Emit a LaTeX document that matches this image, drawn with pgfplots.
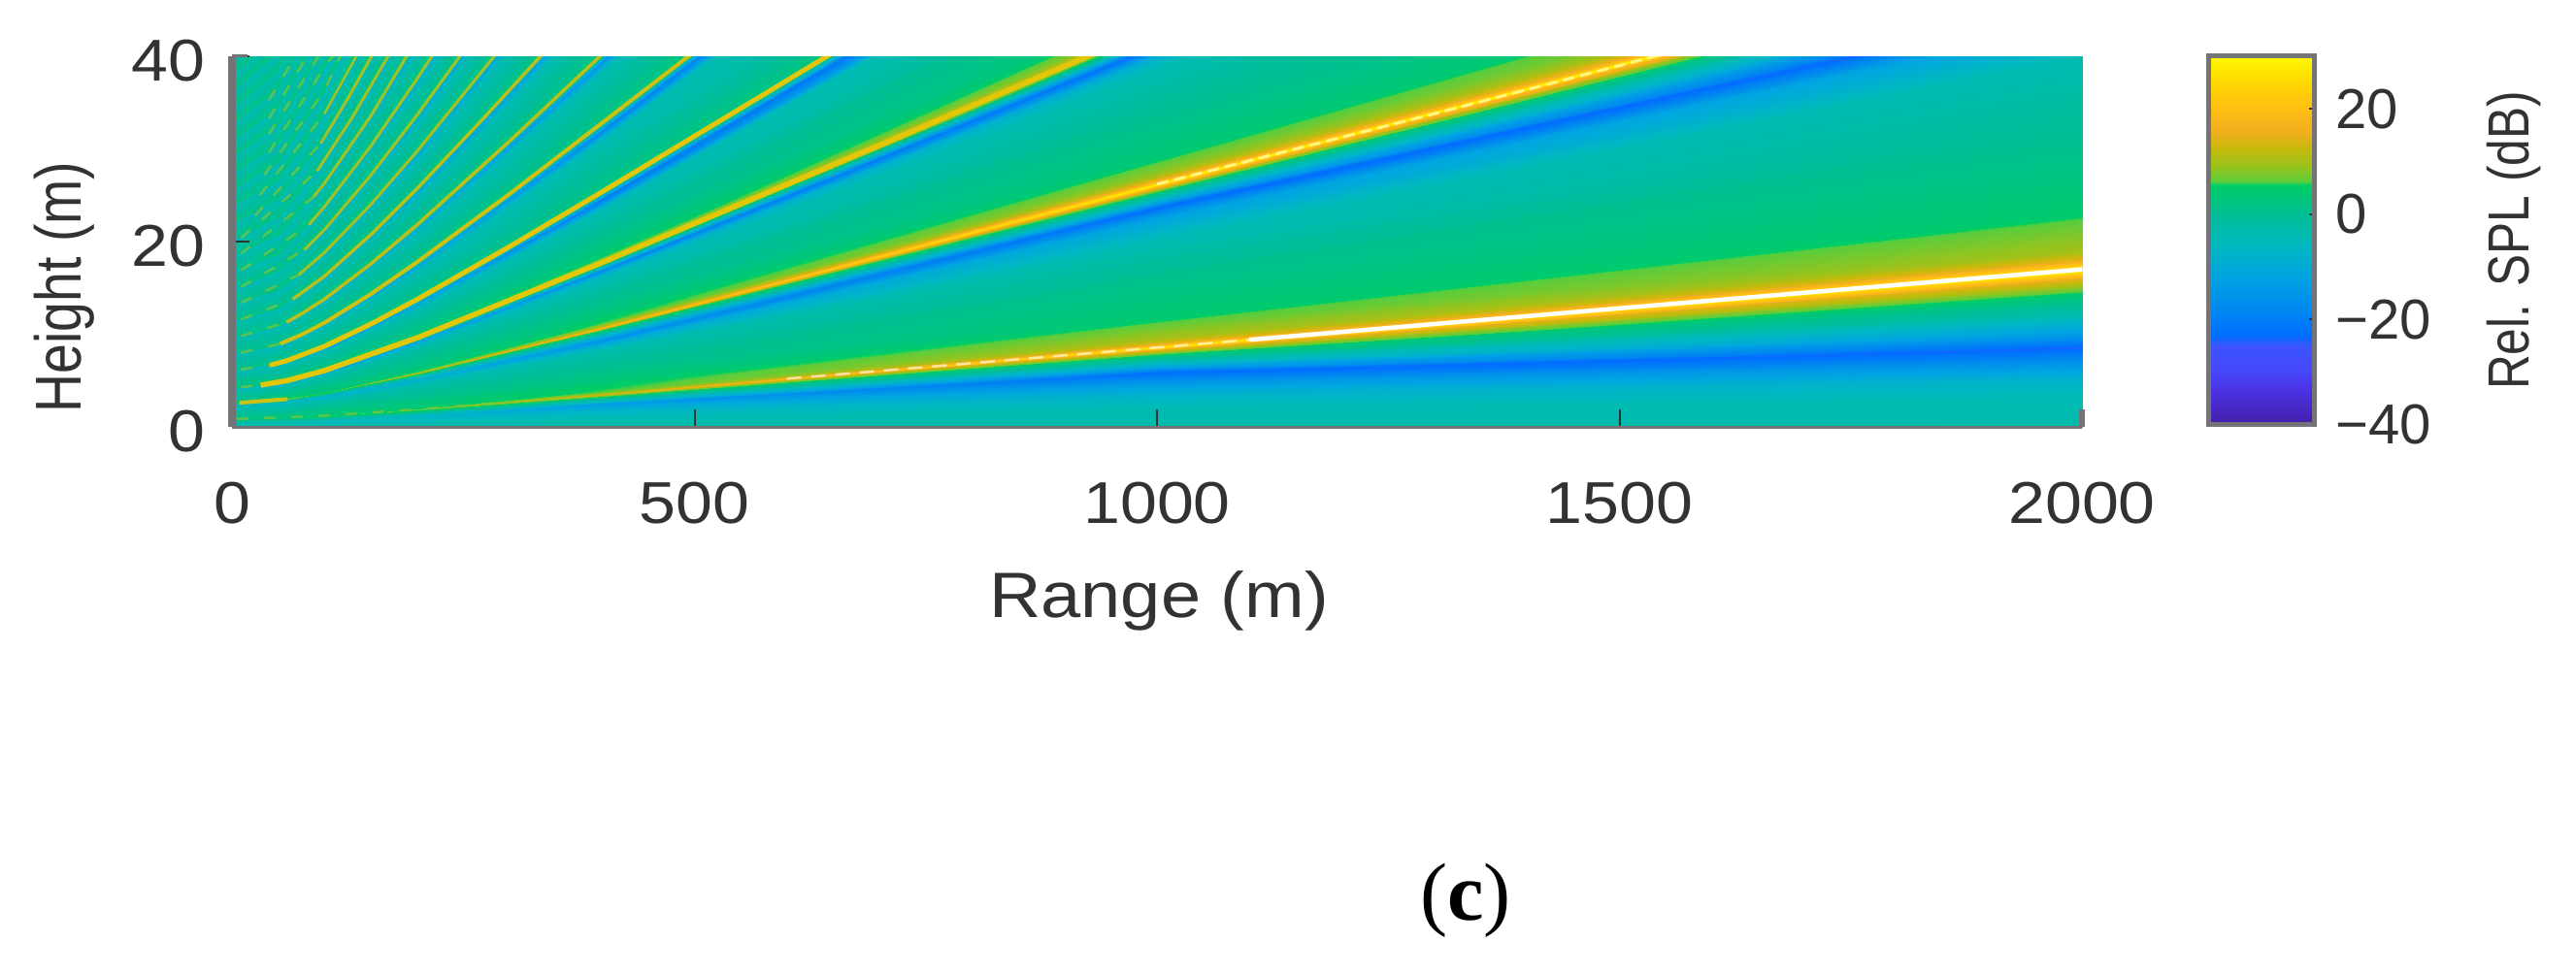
\documentclass[border=0pt]{standalone}
\usepackage{fontspec}
\usepackage{pgfplots}
\pgfplotsset{compat=1.18}
\setmainfont{Liberation Sans}
\newfontfamily\hfont[FakeStretch=1.12]{Liberation Sans}
\newfontfamily\vfont[FakeStretch=0.83]{Liberation Sans}
\newfontfamily\cfont{Liberation Serif}
\definecolor{txt}{RGB}{50,50,50}
\definecolor{spine}{RGB}{115,115,120}
\definecolor{lobeA}{RGB}{225,198,10}
\definecolor{lobeB}{RGB}{205,193,20}
\definecolor{lobeC}{RGB}{185,192,28}
\definecolor{lobeD}{RGB}{160,194,40}
\definecolor{lobeE}{RGB}{120,198,60}
% colormap positions are (dB+40)*10
\pgfplotsset{colormap={spl}{
  rgb255(0)=(70,30,170) rgb255(65)=(75,50,225) rgb255(100)=(70,70,250)
  rgb255(150)=(60,85,255) rgb255(170)=(0,110,255) rgb255(217)=(0,135,240)
  rgb255(284)=(0,165,225) rgb255(344)=(0,185,190) rgb255(400)=(0,190,150)
  rgb255(456)=(0,205,100) rgb255(462)=(90,205,60) rgb255(490)=(150,195,30)
  rgb255(526)=(200,185,10) rgb255(556)=(240,175,30) rgb255(600)=(255,190,20)
  rgb255(650)=(255,215,0) rgb255(700)=(255,250,0)}}
\begin{document}
\begin{tikzpicture}
\path[use as bounding box] (0,0) rectangle (26.54,10.04);
\begin{axis}[
  at={(2.39cm,5.64cm)}, anchor=south west,
  scale only axis, width=19.06cm, height=3.82cm,
  view={0}{90},
  xmin=0, xmax=2000, ymin=0, ymax=40, zmin=-50, zmax=50,
  colormap name=spl, point meta min=-40, point meta max=30,
  axis line style={draw=none},
  xtick={0,500,1000,1500,2000}, ytick={0,20,40}, ztick=\empty,
  xticklabels={0,500,1000,1500,2000}, yticklabels={0,20,40},
  tickpos=left, tick align=inside, major tick length=0.18cm,
  tick style={color=txt, line width=0.02cm},
  xticklabel style={font=\hfont\fontsize{17.3}{19}\selectfont, text=txt, yshift=-0.45cm},
  yticklabel style={font=\hfont\fontsize{17.3}{19}\selectfont, text=txt, xshift=-0.15cm, yshift=-0.05cm},
  colorbar, colorbar/width=1.09cm,
  colorbar style={
    at={(parent axis.north east)}, anchor=north west, xshift=1.0cm,
    height=3.8cm,
    ytick={-40,-20,0,20}, yticklabels={−40,−20,0,20},
    ytick pos=right, tick align=inside, major tick length=0.05cm,
    axis line style={draw=spine, line width=0.05cm},
    yticklabel style={font=\fontsize{16.5}{18}\selectfont, text=txt, anchor=west, xshift=0.1cm},
  },
]
% lobes 0 (bottom of the field), each line is one iso-line at r = 0,50,100,200,400,1000,2000
\addplot3[surf, shader=interp, mesh/cols=7] coordinates {
(0,0,-3)(50,0,-3)(100,0,-3)(200,0,-3)(400,0,-3)(1000,0,-3)(2000,0,-3)
(0,.1,-3)(50,.14,-3)(100,.21,-3)(200,.39,-3)(400,.88,-3.5)(1000,2.07,-4)(2000,3,-4)
(0,.18,-3)(50,.24,-3)(100,.36,-4)(200,.66,-5)(400,1.5,-6)(1000,3.54,-8)(2000,5.2,-8)
(0,.24,-3)(50,.32,-4)(100,.48,-5)(200,.88,-6)(400,2,-9)(1000,4.72,-14)(2000,7,-16)
(0,.3,-3)(50,.4,-4)(100,.6,-5)(200,1.1,-7)(400,2.5,-14)(1000,5.9,-23)(2000,8.6,-24)
(0,.39,-3)(50,.49,-3)(100,.7,-4)(200,1.23,-5)(400,2.67,-8)(1000,6.34,-13)(2000,10,-14)
(0,.52,-3)(50,.62,-3)(100,.84,-3)(200,1.42,-3)(400,2.9,-3)(1000,6.97,-4)(2000,12,-4)
(0,.65,0)(50,.75,1)(100,.99,1)(200,1.61,2)(400,3.14,2)(1000,7.6,3)(2000,14,3)
(0,.72,0)(50,.82,1)(100,1.06,2)(200,1.71,3)(400,3.26,5)(1000,7.91,8)(2000,15,8)
(0,.78,1)(50,.88,2)(100,1.13,3)(200,1.8,5)(400,3.38,8)(1000,8.23,14)(2000,16,15)
(0,.83,1)(50,.93,3)(100,1.18,4)(200,1.87,7)(400,3.46,12)(1000,8.44,23)(2000,16.7,25)
(0,.85,2)(50,.95,4)(100,1.2,5)(200,1.9,8)(400,3.5,14)(1000,8.54,28)(2000,17,30)
(0,.87,1)(50,.97,3)(100,1.22,4)(200,1.93,7)(400,3.56,12)(1000,8.69,23)(2000,17.3,25)
(0,.9,1)(50,1.01,2)(100,1.27,3)(200,2.01,5)(400,3.71,8)(1000,9.05,14)(2000,18,15)
(0,.95,1)(50,1.06,2)(100,1.34,3)(200,2.13,4)(400,3.92,6)(1000,9.56,10)(2000,19,10)
(0,1.12,1)(50,1.25,2)(100,1.58,3)(200,2.51,3)(400,4.62,5)(1000,11.3,6)(2000,22.5,6)
(0,1.15,1)(50,1.28,2)(100,1.62,3)(200,2.57,3)(400,4.73,4)(1000,11.5,4.5)(2000,23,4.5)
(0,1.6,-1)(50,1.79,-1)(100,2.26,0)(200,3.58,0)(400,6.6,0)(1000,16.1,1)(2000,32,0)
(0,2,-3)(50,2.24,-3)(100,2.83,-3)(200,4.47,-3)(400,8.25,-3)(1000,20.1,-4)(2000,40,-4)
};
% lobes 1 and 2
\addplot3[surf, shader=interp, mesh/cols=7] coordinates {
(0,2,-3)(50,2.24,-3)(100,2.83,-3)(200,4.47,-3)(400,8.25,-3)(1000,20.1,-4)(2000,40,-4)
(0,2.14,-3)(50,2.39,-4)(100,3.03,-5)(200,4.79,-6)(400,8.82,-8)(1000,22.5,-12)(2000,43.6,-12)
(0,2.27,-4)(50,2.54,-7)(100,3.21,-8)(200,5.08,-10)(400,9.36,-16)(1000,23.7,-23)(2000,45.4,-24)
(0,2.36,-3)(50,2.64,-4)(100,3.34,-5)(200,5.28,-6)(400,9.73,-9)(1000,24.2,-12)(2000,47.2,-12)
(0,2.44,-2)(50,2.73,-3)(100,3.45,-3)(200,5.46,-3)(400,10.06,-3)(1000,24.7,-4)(2000,48.8,-4)
(0,2.5,0)(50,2.8,2)(100,3.54,2)(200,5.59,2)(400,10.31,3)(1000,25.2,3)(2000,50,3)
(0,2.54,1)(50,2.84,4)(100,3.59,4)(200,5.68,4)(400,10.47,6)(1000,25.6,9)(2000,50.9,9)
(0,2.575,2)(50,2.88,7)(100,3.64,6)(200,5.76,8)(400,10.62,13)(1000,25.9,18)(2000,51.6,18)
(0,2.6,4)(50,2.91,11)(100,3.68,9)(200,5.81,13)(400,10.72,20)(1000,26.2,29)(2000,52,30)
(0,2.625,2)(50,2.93,7)(100,3.71,6)(200,5.87,8)(400,10.82,13)(1000,26.5,18)(2000,52.6,18)
(0,2.66,1)(50,2.97,5)(100,3.76,4)(200,5.95,6)(400,10.97,9)(1000,26.8,13)(2000,53.3,13)
(0,2.71,1)(50,3.03,4)(100,3.83,3)(200,6.06,4)(400,11.17,6)(1000,27.3,9)(2000,54.3,9)
(0,2.85,1)(50,3.19,3)(100,4.03,3)(200,6.37,3)(400,11.75,5)(1000,28.6,6)(2000,57.1,6)
(0,2.88,1)(50,3.22,3)(100,4.07,3)(200,6.44,3)(400,11.87,4)(1000,28.9,4)(2000,57.7,4)
(0,3.4,-1)(50,3.8,0)(100,4.81,0)(200,7.6,0)(400,14,0)(1000,34.2,0)(2000,68,0)
(0,3.85,-3)(50,4.3,-3)(100,5.44,-3)(200,8.61,-3)(400,15.87,-4)(1000,38.7,-4)(2000,77,-4)
(0,3.98,-4)(50,4.45,-5)(100,5.63,-6)(200,8.9,-7)(400,16.41,-8)(1000,40,-9)(2000,79.7,-9)
(0,4.1,-5)(50,4.58,-8)(100,5.8,-10)(200,9.17,-12)(400,16.9,-18)(1000,41.2,-23)(2000,82.1,-23)
(0,4.17,-3)(50,4.66,-4)(100,5.9,-4)(200,9.32,-5)(400,17.19,-6)(1000,41.9,-8)(2000,83.5,-8)
(0,4.23,0)(50,4.73,2)(100,5.98,2)(200,9.46,2)(400,17.44,3)(1000,42.5,3)(2000,84.7,3)
(0,4.27,1)(50,4.77,3)(100,6.04,4)(200,9.55,6)(400,17.6,12)(1000,42.9,8)(2000,85.5,8)
(0,4.3,3)(50,4.81,8)(100,6.08,11)(200,9.61,14)(400,17.73,22)(1000,43.2,25)(2000,86.1,25)
(0,4.33,2)(50,4.84,5)(100,6.12,6)(200,9.68,8)(400,17.85,14)(1000,43.5,14)(2000,86.7,14)
(0,4.38,1)(50,4.9,3)(100,6.19,4)(200,9.79,5)(400,18.06,8)(1000,44,9)(2000,87.7,9)
(0,4.48,1)(50,5.01,3)(100,6.33,3)(200,10.02,4)(400,18.47,5)(1000,45,6)(2000,89.7,6)
(0,4.52,1)(50,5.05,3)(100,6.39,3)(200,10.11,3)(400,18.64,4)(1000,45.4,4)(2000,90.5,4)
(0,5.1,0)(50,5.7,0)(100,7.21,0)(200,11.4,0)(400,21.03,0)(1000,51.3,0)(2000,102,0)
(0,5.7,-3)(50,6.37,-3)(100,8.06,-3)(200,12.75,-4)(400,23.5,-4)(1000,57.3,-4)(2000,114,-4)
};
% lobes 3 to 10, r = 0,50,100,200,400,1000
\addplot3[surf, shader=interp, mesh/cols=6] coordinates {
(0,5.7,-3)(50,6.37,-3)(100,8.06,-3)(200,12.75,-4)(400,23.5,-4)(1000,57.3,-4)
(0,5.95,-4)(50,6.65,-6)(100,8.41,-9)(200,13.3,-12)(400,24.53,-20)(1000,59.8,-23)
(0,6.15,1)(50,6.88,2)(100,8.7,3)(200,13.75,3)(400,25.36,3)(1000,61.8,3)
(0,7.5,-3)(50,8.39,-3)(100,10.6,-3)(200,16.77,-4)(400,30.9,-4)(1000,75.4,-4)
(0,7.75,-4)(50,8.66,-6)(100,10.96,-8)(200,17.33,-11)(400,31.95,-18)(1000,77.9,-20)
(0,7.95,1)(50,8.89,2)(100,11.24,3)(200,17.78,3)(400,32.8,3)(1000,79.9,3)
(0,9.3,-3)(50,10.4,-3)(100,13.15,-3)(200,20.8,-4)(400,38.3,-4)(1000,93.5,-4)
(0,9.55,-4)(50,10.68,-6)(100,13.5,-8)(200,21.35,-10)(400,39.4,-15)(1000,96,-16)
(0,9.75,1)(50,10.9,2)(100,13.79,3)(200,21.8,3)(400,40.2,3)(1000,98,3)
(0,11.05,-3)(50,12.35,-3)(100,15.62,-3)(200,24.7,-4)(400,45.6,-4)(1000,111,-4)
(0,11.3,-4)(50,12.63,-5)(100,15.98,-7)(200,25.27,-10)(400,46.6,-13)(1000,113.6,-13)
(0,11.5,1)(50,12.86,2)(100,16.26,3)(200,25.71,3)(400,47.4,3)(1000,115.6,3)
(0,12.85,-3)(50,14.37,-3)(100,18.17,-3)(200,28.73,-4)(400,53,-4)(1000,129,-4)
(0,13.1,-4)(50,14.65,-5)(100,18.52,-7)(200,29.29,-10)(400,54,-13)(1000,131.7,-13)
(0,13.3,1)(50,14.87,2)(100,18.81,3)(200,29.74,3)(400,54.8,3)(1000,133.7,3)
(0,14.6,-3)(50,16.32,-3)(100,20.64,-3)(200,32.65,-4)(400,60.2,-4)(1000,146.7,-4)
(0,14.85,-4)(50,16.6,-5)(100,21,-7)(200,33.2,-10)(400,61.2,-13)(1000,149,-13)
(0,15.05,1)(50,16.83,2)(100,21.28,3)(200,33.65,3)(400,62,3)(1000,151,3)
(0,16.35,-3)(50,18.28,-3)(100,23.12,-3)(200,36.56,-4)(400,67.4,-4)(1000,164,-4)
(0,16.6,-4)(50,18.56,-5)(100,23.47,-7)(200,37.1,-10)(400,68.4,-13)(1000,167,-13)
(0,16.8,1)(50,18.78,2)(100,23.76,3)(200,37.56,3)(400,69.3,3)(1000,169,3)
(0,18.15,-3)(50,20.29,-3)(100,25.66,-3)(200,40.6,-4)(400,74.8,-4)(1000,182,-4)
(0,18.4,-4)(50,20.57,-5)(100,26.02,-7)(200,41.1,-10)(400,75.9,-13)(1000,185,-13)
(0,18.6,1)(50,20.8,2)(100,26.3,3)(200,41.6,3)(400,76.7,3)(1000,187,3)
};
% lobes 11 to 22, r = 0,50,100,200
\addplot3[surf, shader=interp, mesh/cols=4] coordinates {
(0,18.6,1)(50,20.8,2)(100,26.3,3)(200,41.6,3)
(0,19.9,-3)(50,22.25,-3)(100,28.14,-4)(200,44.5,-4)
(0,20.15,-4)(50,22.53,-5)(100,28.5,-8)(200,45.05,-11)
(0,20.35,2)(50,22.75,2)(100,28.77,3)(200,45.5,3)
(0,21.65,-3)(50,24.2,-3)(100,30.6,-4)(200,48.4,-4)
(0,21.9,-4)(50,24.48,-5)(100,30.97,-8)(200,49,-11)
(0,22.1,2)(50,24.7,2)(100,31.25,3)(200,49.4,3)
(0,23.45,-3)(50,26.22,-3)(100,33.16,-4)(200,52.4,-4)
(0,23.7,-4)(50,26.5,-5)(100,33.51,-8)(200,53,-11)
(0,23.9,2)(50,26.72,2)(100,33.8,3)(200,53.4,3)
(0,25.2,-3)(50,28.17,-3)(100,35.63,-4)(200,56.3,-4)
(0,25.45,-4)(50,28.45,-5)(100,35.99,-8)(200,56.9,-11)
(0,25.65,2)(50,28.68,2)(100,36.27,3)(200,57.4,3)
(0,27,-3)(50,30.19,-3)(100,38.18,-4)(200,60.4,-4)
(0,27.25,-4)(50,30.47,-5)(100,38.53,-8)(200,60.9,-11)
(0,27.45,2)(50,30.69,2)(100,38.81,3)(200,61.4,3)
(0,28.75,-3)(50,32.14,-3)(100,40.65,-4)(200,64.3,-4)
(0,29,-4)(50,32.42,-5)(100,41,-8)(200,64.8,-11)
(0,29.2,2)(50,32.65,2)(100,41.3,3)(200,65.3,3)
(0,30.5,-3)(50,34.1,-3)(100,43.1,-4)(200,68.2,-4)
(0,30.75,-4)(50,34.38,-5)(100,43.5,-8)(200,68.8,-11)
(0,30.95,2)(50,34.6,2)(100,43.76,3)(200,69.2,3)
(0,32.3,-3)(50,36.1,-3)(100,45.7,-4)(200,72.2,-4)
(0,32.55,-4)(50,36.4,-5)(100,46,-8)(200,72.8,-11)
(0,32.75,2)(50,36.6,2)(100,46.3,3)(200,73.2,3)
(0,34.05,-3)(50,38.07,-3)(100,48.1,-4)(200,76.1,-4)
(0,34.3,-4)(50,38.35,-5)(100,48.5,-8)(200,76.7,-11)
(0,34.5,2)(50,38.57,2)(100,48.8,3)(200,77.1,3)
(0,35.85,-3)(50,40.08,-3)(100,50.7,-4)(200,80.2,-4)
(0,36.1,-4)(50,40.36,-5)(100,51,-8)(200,80.7,-11)
(0,36.3,2)(50,40.58,2)(100,51.3,3)(200,81.2,3)
(0,37.6,-3)(50,42,-3)(100,53.2,-4)(200,84,-4)
(0,37.85,-4)(50,42.3,-5)(100,53.5,-8)(200,84.6,-11)
(0,38.05,2)(50,42.5,2)(100,53.8,3)(200,85,3)
(0,39.35,-3)(50,44,-3)(100,55.6,-4)(200,88,-4)
(0,39.6,-4)(50,44.3,-5)(100,56,-8)(200,88.5,-11)
(0,39.8,2)(50,44.5,2)(100,56.3,3)(200,89,3)
(0,42,-3)(50,47,-3)(100,59.4,-4)(200,93.9,-4)
};
% ridge lines of the thin lobes
\addplot3[lobeA, line width=0.055cm] coordinates {(31,4.5,40)(60,5,40)(100,6.08,40)(200,9.61,40)(400,17.73,40)(700,30.4,40)(930,40.2,40)};
\addplot3[lobeA, line width=0.05cm] coordinates {(41,6.65,40)(60,7.17,40)(100,8.7,40)(150,11.09,40)(200,13.75,40)(300,19.45,40)(400,25.36,40)(650,40.4,40)};
\addplot3[lobeB, line width=0.04cm] coordinates {(52,8.96,40)(75,9.94,40)(100,11.24,40)(150,14.33,40)(200,17.78,40)(300,25.14,40)(400,32.8,40)(500,40.5,40)};
\addplot3[lobeC, line width=0.035cm] coordinates {(59,11.3,40)(75,12.19,40)(100,13.79,40)(150,17.58,40)(200,21.8,40)(300,30.83,40)(400,40.2,40)};
\addplot3[lobeC, line width=0.033cm] coordinates {(66,13.8,40)(100,16.26,40)(150,20.73,40)(200,25.71,40)(270,33.1,40)(340,40.7,40)};
\addplot3[lobeD, line width=0.03cm] coordinates {(72,16.4,40)(100,18.81,40)(150,23.98,40)(200,29.74,40)(290,40.8,40)};
\addplot3[lobeD, line width=0.03cm] coordinates {(78,19.1,40)(100,21.28,40)(150,27.14,40)(200,33.65,40)(250,40.5,40)};
\addplot3[lobeD, line width=0.03cm] coordinates {(83,21.8,40)(100,23.76,40)(150,30.29,40)(200,37.56,40)(220,40.6,40)};
\addplot3[lobeD, line width=0.03cm] coordinates {(88,24.8,40)(100,26.3,40)(150,33.54,40)(190,40.2,40)};
\addplot3[lobeD, line width=0.03cm] coordinates {(92,27.6,40)(130,33.4,40)(170,40.2,40)};
\addplot3[lobeD, line width=0.03cm] coordinates {(96,30.6,40)(125,35.4,40)(152,40.2,40)};
\addplot3[lobeD, line width=0.025cm] coordinates {(100,33.8,40)(135,40.1,40)};
% broken near field parts
\pgfplotsset{nearlobe/.style={lobeE, opacity=0.75, line width=0.025cm, dash pattern=on 0.12cm off 0.16cm}}
\addplot3[nearlobe] coordinates {(5,.85,40)(100,1.2,40)(200,1.9,40)(300,2.7,40)};
\addplot3[lobeB, line width=0.04cm, dash pattern=on 0.5cm off 0.12cm] coordinates {(8,2.6,40)(60,3,40)};
\addplot3[nearlobe] coordinates {(10,4.3,40)(31,4.5,40)};
\addplot3[nearlobe] coordinates {(10,6.2,40)(41,6.65,40)};
\addplot3[nearlobe] coordinates {(10,8,40)(52,8.96,40)};
\addplot3[nearlobe] coordinates {(10,9.8,40)(59,11.3,40)};
\addplot3[nearlobe] coordinates {(10,11.6,40)(66,13.8,40)};
\addplot3[nearlobe] coordinates {(10,13.4,40)(72,16.4,40)};
\addplot3[nearlobe] coordinates {(10,15.1,40)(78,19.1,40)};
\addplot3[nearlobe] coordinates {(10,16.9,40)(83,21.8,40)};
\addplot3[nearlobe] coordinates {(10,18.7,40)(88,24.8,40)};
\addplot3[nearlobe] coordinates {(10,20.4,40)(92,27.6,40)};
\addplot3[nearlobe] coordinates {(25,22.8,40)(96,30.6,40)};
\addplot3[nearlobe] coordinates {(30,25,40)(100,33.8,40)};
\addplot3[nearlobe] coordinates {(35,27.2,40)(100,36.3,40)(118,40.2,40)};
\addplot3[nearlobe] coordinates {(40,29.6,40)(100,38.8,40)(110,40.2,40)};
\addplot3[nearlobe] coordinates {(40,31.6,40)(95,40.2,40)};
\addplot3[nearlobe] coordinates {(40,33.3,40)(85,40.6,40)};
\addplot3[nearlobe] coordinates {(40,35.3,40)(70,40.2,40)};
% white crest of the two strong lobes
\addplot3[white, line width=0.045cm] coordinates {(1100,9.4,40)(1500,12.8,40)(2000,17,40)};
\addplot3[white, opacity=0.6, line width=0.025cm, dash pattern=on 0.15cm off 0.1cm] coordinates {(600,5.2,40)(1100,9.4,40)};
\addplot3[yellow!40!white, opacity=0.85, line width=0.03cm, dash pattern=on 0.12cm off 0.06cm] coordinates {(1000,26.2,40)(1300,33.8,40)(1600,41.6,40)};
\end{axis}
% spines
\draw[spine, line width=0.08cm] (2.39,5.64) -- (2.39,9.46);
\draw[spine, line width=0.03cm] (2.39,5.64) -- (21.45,5.64);
\draw[spine, line width=0.06cm] (21.45,5.64) -- (21.45,5.82);
\draw[spine, line width=0.03cm] (2.39,9.46) -- (2.55,9.46);
% axis titles
\node[text=txt, rotate=90, font=\vfont\fontsize{19}{21}\selectfont] at (0.66,7.08) {Height (m)};
\node[text=txt, font=\hfont\fontsize{18.8}{21}\selectfont] at (11.94,3.85) {Range (m)};
\node[text=txt, rotate=90, font=\vfont\fontsize{17}{19}\selectfont] at (25.90,7.56) {Rel. SPL (dB)};
\node[text=black, font=\cfont\fontsize{24}{26}\selectfont] at (15.10,0.76) {(\textbf{c})};
\end{tikzpicture}
\end{document}
